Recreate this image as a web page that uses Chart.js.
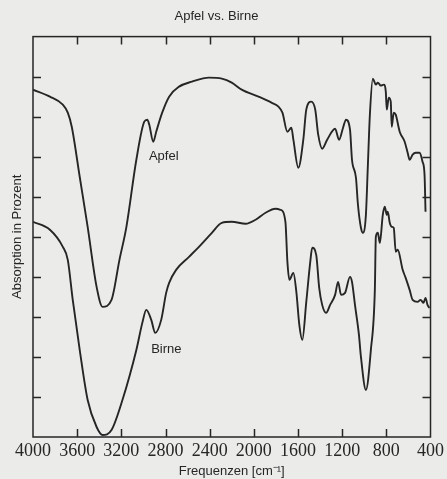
<!DOCTYPE html>
<html>
<head>
<meta charset="utf-8">
<script src="https://cdn.jsdelivr.net/npm/chart.js@4"></script>
<style>
  html, body { margin: 0; padding: 0; background: #ebebea; }
  #wrap { width: 447px; height: 479px; }
</style>
</head>
<body>
<div id="wrap"><canvas id="irChart" width="447" height="479"></canvas></div>
<script>
const apfelWn = [4000, 3847, 3730, 3685, 3649, 3577, 3505, 3424, 3370, 3289, 3217, 3154, 3064, 2992, 2965, 2947, 2911, 2884, 2830, 2767, 2677, 2560, 2407, 2290, 2200, 2110, 1957, 1840, 1777, 1741, 1696, 1660, 1642, 1597, 1552, 1525, 1480, 1444, 1417, 1381, 1336, 1264, 1228, 1192, 1165, 1129, 1111, 1075, 1057, 1030, 1012, 985, 967, 949, 922, 895, 877, 850, 823, 805, 796, 778, 760, 751, 733, 715, 679, 634, 607, 589, 562, 535, 499, 472, 454, 445];
const apfelAbs = [86.75, 85, 83, 81, 77.5, 65, 52.5, 37.5, 32.5, 34.25, 44.25, 52.5, 69.25, 78.75, 79.25, 78, 73.75, 76.25, 81, 85, 87.5, 88.75, 89.75, 89.5, 88.5, 86.75, 85, 83.5, 82.5, 81, 76.25, 77.25, 74.25, 67.25, 74.25, 81.75, 83.75, 81.75, 75.5, 72, 74.25, 77, 74.25, 77.25, 79.25, 76.75, 69.25, 64.75, 58, 52.25, 51, 55.5, 68, 80.5, 89.5, 88, 88.5, 87.75, 88, 86.25, 81.75, 84.75, 83.75, 77.5, 81, 80.5, 76.25, 73.75, 71, 69.25, 70.5, 71, 71, 68.75, 65.5, 56.25];

const birneWn = [4000, 3847, 3730, 3685, 3640, 3577, 3505, 3424, 3370, 3289, 3190, 3064, 3010, 2974, 2929, 2893, 2839, 2794, 2767, 2704, 2587, 2497, 2380, 2290, 2200, 2074, 1984, 1894, 1804, 1759, 1714, 1696, 1678, 1642, 1615, 1588, 1561, 1525, 1489, 1471, 1435, 1408, 1381, 1345, 1309, 1264, 1237, 1210, 1174, 1129, 1111, 1084, 1048, 1030, 985, 940, 904, 895, 877, 859, 832, 814, 796, 787, 769, 751, 733, 715, 697, 652, 625, 589, 562, 517, 490, 463, 445, 427, 409];
const birneAbs = [53.75, 51.75, 47.5, 44.25, 34.25, 21.75, 9.25, 2.5, 0.5, 1.75, 9.25, 21.75, 28.5, 31.75, 29.25, 26, 29.25, 36, 38.5, 41.75, 45, 47.5, 51, 53.5, 53.75, 53.25, 54.25, 56, 57, 56.75, 53.75, 43.75, 39.25, 41, 36.25, 28, 24.25, 33.75, 43.75, 47.25, 45.5, 37.25, 33, 31, 33, 35.5, 38.75, 35.5, 36, 40, 38.75, 33, 25.5, 20, 11.75, 21.75, 36.75, 50, 51, 48.5, 55.5, 57.5, 55.5, 56.25, 53.5, 52.5, 52.25, 46.25, 46.75, 41.75, 39.75, 36.75, 34.25, 33.75, 34.25, 33.5, 34.75, 33, 32.25];

// Beschriftungen an den Kurven: [Text, Wellenzahl, Absorption]
const curveLabels = [['Apfel', 2950, 70], ['Birne', 2930, 21.75]];

const ink = '#262626';
const sans = '"Liberation Sans", Arial, sans-serif';

function toPoints(xs, ys) {
    return xs.map((x, i) => ({x: x, y: ys[i]}));
}

/*== Rahmen, Ticks nach innen, Hintergrund, Kurvennamen ==*/
const frameTicks = {
    id: 'frameTicks',
    beforeDraw(chart) {
        const c = chart.ctx;
        c.save();
        c.fillStyle = '#ebebea';
        c.fillRect(0, 0, chart.width, chart.height);
        c.restore();
    },
    afterDraw(chart) {
        const c = chart.ctx;
        const a = chart.chartArea;
        const xs = chart.scales.x;
        const ys = chart.scales.y;
        const len = 8;
        c.save();
        c.strokeStyle = ink;
        c.lineWidth = 1.5;
        c.strokeRect(a.left, a.top, a.right - a.left, a.bottom - a.top);
        c.beginPath();
        xs.ticks.forEach(t => {
            const px = Math.round(xs.getPixelForValue(t.value)) + 0.5;
            if (px <= a.left + 2 || px >= a.right - 2) return;
            c.moveTo(px, a.bottom); c.lineTo(px, a.bottom - len);
            c.moveTo(px, a.top); c.lineTo(px, a.top + len);
        });
        ys.ticks.forEach(t => {
            const py = Math.round(ys.getPixelForValue(t.value)) + 0.5;
            if (py <= a.top + 2 || py >= a.bottom - 2) return;
            c.moveTo(a.left, py); c.lineTo(a.left + len, py);
            c.moveTo(a.right, py); c.lineTo(a.right - len, py);
        });
        c.stroke();
        c.fillStyle = ink;
        c.font = '13px ' + sans;
        c.textBaseline = 'middle';
        c.textAlign = 'left';
        curveLabels.forEach(l => {
            c.fillText(l[0], xs.getPixelForValue(l[1]), ys.getPixelForValue(l[2]));
        });
        c.restore();
    }
};

const ctx = document.getElementById('irChart').getContext('2d');

const irChart = new Chart(ctx, {
    type: 'line',
    data: {
        datasets: [{
            label: 'Apfel',
            data: toPoints(apfelWn, apfelAbs),
            borderColor: ink,
            borderWidth: 1.9,
            pointRadius: 0,
            cubicInterpolationMode: 'monotone',
            fill: false
        }, {
            label: 'Birne',
            data: toPoints(birneWn, birneAbs),
            borderColor: ink,
            borderWidth: 1.9,
            pointRadius: 0,
            cubicInterpolationMode: 'monotone',
            fill: false
        }]
    },
    options: {
        responsive: false,
        animation: false,
        layout: {
            padding: {left: 0, right: 14, top: 0, bottom: 0}
        },
        scales: {
            x: {
                type: 'linear',
                reverse: true,
                min: 400,
                max: 4000,
                afterFit: (scale) => { scale.height = 42; },
                ticks: {
                    stepSize: 400,
                    autoSkip: false,
                    maxRotation: 0,
                    padding: 3,
                    color: ink,
                    callback: (value) => String(value),
                    font: {family: '"Liberation Serif", "Times New Roman", serif', size: 18}
                },
                grid: {display: false, drawTicks: false},
                border: {display: false},
                title: {
                    display: true,
                    text: 'Frequenzen [cm\u207B\u00B9]',
                    color: ink,
                    padding: {top: 0, bottom: 0},
                    font: {family: sans, size: 13}
                }
            },
            y: {
                min: 0,
                max: 100,
                afterFit: (scale) => { scale.width = 33; },
                ticks: {stepSize: 10, display: false},
                grid: {display: false, drawTicks: false},
                border: {display: false},
                title: {
                    display: true,
                    text: 'Absorption in Prozent',
                    color: ink,
                    padding: {top: 10, bottom: 0},
                    font: {family: sans, size: 13}
                }
            }
        },
        plugins: {
            legend: {display: false},
            tooltip: {enabled: false},
            title: {
                display: true,
                text: 'Apfel vs. Birne',
                color: ink,
                padding: {top: 9, bottom: 12},
                font: {family: sans, size: 13, weight: 'normal'}
            }
        }
    },
    plugins: [frameTicks]
});
</script>
</body>
</html>
